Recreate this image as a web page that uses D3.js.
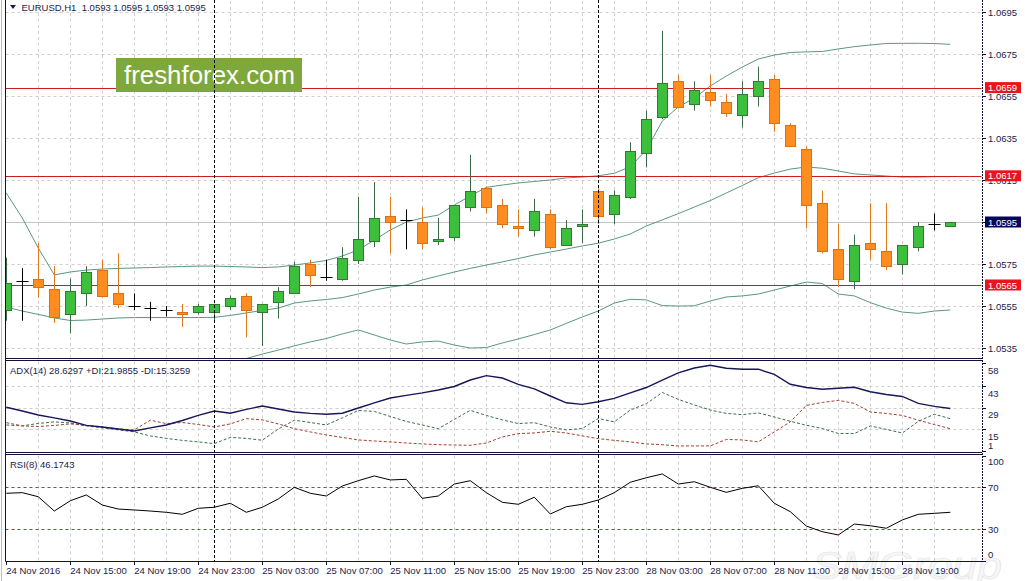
<!DOCTYPE html>
<html><head><meta charset="utf-8">
<script src="https://cdn.jsdelivr.net/npm/d3@7/dist/d3.min.js"></script>
<style>
body{margin:0;background:#fff;overflow:hidden}
svg{display:block}
text{font-family:"Liberation Sans",Arial,sans-serif}
</style>
</head><body>
<svg id="c" width="1025" height="581"></svg>
<script>
// ---------- DATA ----------
const times = [
"24 Nov 11:00","24 Nov 12:00","24 Nov 13:00","24 Nov 14:00","24 Nov 15:00","24 Nov 16:00","24 Nov 17:00","24 Nov 18:00",
"24 Nov 19:00","24 Nov 20:00","24 Nov 21:00","24 Nov 22:00","24 Nov 23:00",
"25 Nov 00:00","25 Nov 01:00","25 Nov 02:00","25 Nov 03:00","25 Nov 04:00","25 Nov 05:00","25 Nov 06:00","25 Nov 07:00",
"25 Nov 08:00","25 Nov 09:00","25 Nov 10:00","25 Nov 11:00","25 Nov 12:00","25 Nov 13:00","25 Nov 14:00","25 Nov 15:00",
"25 Nov 16:00","25 Nov 17:00","25 Nov 18:00","25 Nov 19:00","25 Nov 20:00","25 Nov 21:00","25 Nov 22:00","25 Nov 23:00",
"28 Nov 00:00","28 Nov 01:00","28 Nov 02:00","28 Nov 03:00","28 Nov 04:00","28 Nov 05:00","28 Nov 06:00","28 Nov 07:00",
"28 Nov 08:00","28 Nov 09:00","28 Nov 10:00","28 Nov 11:00","28 Nov 12:00","28 Nov 13:00","28 Nov 14:00","28 Nov 15:00",
"28 Nov 16:00","28 Nov 17:00","28 Nov 18:00","28 Nov 19:00","28 Nov 20:00","28 Nov 21:00","28 Nov 22:00"];

const open  = [1.0553,1.0567,1.0568,1.0563,1.0551,1.0561,1.0572,1.0561,1.0555,1.0554,1.0553,1.0552,1.0552,1.0552,1.0555,1.0560,1.0552,1.0557,1.0561,1.0575,
               1.0569,1.0568,1.0577,1.0586,1.0598,1.0596,1.0595,1.0586,1.0588,1.0602,1.0611,1.0603,1.0593,1.0591,1.0599,1.0584,1.0593,1.0610,1.0599,1.0607,
               1.0628,1.0645,1.0662,1.0651,1.0657,1.0652,1.0646,1.0655,1.0663,1.0641,1.0630,1.0604,1.0582,1.0567,1.0585,1.0581,1.0575,1.0583,1.0594,1.0593];
const high  = [1.0578,1.0573,1.0585,1.0574,1.0568,1.0574,1.0577,1.0580,1.0561,1.0557,1.0555,1.0556,1.0556,1.0556,1.0560,1.0561,1.0556,1.0564,1.0576,1.0577,
               1.0577,1.0583,1.0607,1.0614,1.0607,1.0601,1.0602,1.0597,1.0603,1.0627,1.0612,1.0606,1.0601,1.0606,1.0601,1.0596,1.0601,1.0611,1.0610,1.0633,
               1.0648,1.0686,1.0665,1.0662,1.0665,1.0656,1.0662,1.0669,1.0665,1.0642,1.0631,1.0610,1.0594,1.0589,1.0604,1.0604,1.0584,1.0595,1.0599,1.0595];
const low   = [1.0548,1.0548,1.0559,1.0547,1.0542,1.0555,1.0559,1.0554,1.0553,1.0548,1.0550,1.0545,1.0551,1.0548,1.0553,1.0540,1.0536,1.0549,1.0561,1.0564,
               1.0567,1.0567,1.0575,1.0583,1.0580,1.0582,1.0582,1.0584,1.0586,1.0600,1.0599,1.0592,1.0588,1.0588,1.0582,1.0584,1.0585,1.0594,1.0594,1.0606,
               1.0621,1.0644,1.0649,1.0648,1.0650,1.0645,1.0640,1.0650,1.0638,1.0631,1.0592,1.0580,1.0564,1.0563,1.0577,1.0572,1.0570,1.0581,1.0591,1.0593];
const close = [1.0566,1.0567,1.0564,1.0550,1.0562,1.0571,1.0560,1.0556,1.0555,1.0554,1.0553,1.0551,1.0555,1.0556,1.0559,1.0553,1.0556,1.0562,1.0574,1.0570,
               1.0569,1.0578,1.0587,1.0597,1.0595,1.0596,1.0585,1.0587,1.0603,1.0610,1.0602,1.0594,1.0592,1.0600,1.0583,1.0592,1.0594,1.0598,1.0608,1.0629,
               1.0644,1.0661,1.0650,1.0658,1.0653,1.0647,1.0656,1.0662,1.0642,1.0631,1.0603,1.0581,1.0568,1.0584,1.0582,1.0574,1.0584,1.0593,1.0594,1.0595];

const bbUpper = [1.06088,1.05969,1.05826,1.05698,1.05712,1.05721,1.05726,1.05729,1.05731,1.05733,1.05736,1.05738,1.05740,1.05740,1.05738,1.05736,1.05733,1.05736,1.05745,1.05755,
                 1.05767,1.05788,1.05817,1.05864,1.05912,1.05950,1.05969,1.05983,1.06031,1.06074,1.06115,1.06126,1.06136,1.06143,1.06150,1.06160,1.06164,1.06170,1.06182,1.06213,
                 1.06293,1.06431,1.06498,1.06540,1.06598,1.06645,1.06688,1.06726,1.06745,1.06757,1.06760,1.06762,1.06774,1.06785,1.06793,1.06800,1.06801,1.06801,1.06800,1.06796];
const bbMiddle = [1.05545,1.05526,1.05510,1.05493,1.05481,1.05483,1.05488,1.05493,1.05495,1.05495,1.05495,1.05495,1.05495,1.05496,1.05505,1.05517,1.05529,1.05540,1.05564,1.05574,
                  1.05581,1.05590,1.05607,1.05626,1.05640,1.05650,1.05674,1.05693,1.05712,1.05729,1.05745,1.05760,1.05776,1.05793,1.05807,1.05821,1.05836,1.05849,1.05869,1.05893,
                  1.05931,1.05960,1.05990,1.06021,1.06052,1.06088,1.06124,1.06161,1.06183,1.06202,1.06212,1.06206,1.06193,1.06179,1.06174,1.06169,1.06164,1.06164,1.06166,1.06166];
const bbLower = [1.05002,1.05083,1.05193,1.05288,1.05250,1.05245,1.05250,1.05255,1.05260,1.05260,1.05255,1.05255,1.05250,1.05255,1.05269,1.05300,1.05321,1.05340,1.05360,1.05379,
                 1.05395,1.05417,1.05436,1.05412,1.05388,1.05369,1.05379,1.05383,1.05364,1.05350,1.05352,1.05374,1.05393,1.05414,1.05436,1.05467,1.05498,1.05526,1.05564,1.05582,
                 1.05579,1.05552,1.05550,1.05551,1.05574,1.05593,1.05598,1.05607,1.05626,1.05645,1.05664,1.05657,1.05607,1.05598,1.05566,1.05540,1.05521,1.05515,1.05526,1.05531];

const adx = [29.4,27.0,24.4,22.5,20.5,17.6,16.6,15.3,14.0,16.0,17.9,20.8,24.1,27.0,25.5,28.0,30.2,28.3,26.3,25.4,
             24.9,25.5,28.9,32.2,35.4,37.1,38.7,40.6,42.9,47.1,49.9,48.4,44.2,41.3,36.7,32.3,31.3,33.0,35.2,38.7,
             42.2,47.0,51.7,54.9,56.7,54.7,54.1,54.1,50.7,44.3,42.2,41.1,41.7,42.4,39.5,37.7,36.4,31.9,30.0,28.6];
const plusDI = [17.9,17.3,18.9,19.9,19.2,17.3,16.0,14.7,13.4,10.8,9.2,7.9,6.9,5.8,9.8,9.2,8.0,15.3,21.0,19.5,
                17.9,22.5,27.3,26.7,23.4,20.2,17.9,15.5,21.5,27.4,24.1,21.2,18.8,19.4,16.6,14.7,15.6,22.1,19.9,27.6,
                31.7,39.0,34.5,30.9,27.6,25.4,24.6,25.7,23.1,20.3,17.7,15.6,12.4,12.3,17.3,15.0,12.7,20.2,24.9,22.0];
const minusDI = [19.4,17.3,16.9,17.6,18.6,17.6,16.6,15.3,14.7,21.0,18.8,19.5,18.2,16.6,18.6,22.0,21.2,18.6,15.5,13.4,
                 11.4,9.8,8.2,7.5,6.9,6.2,5.6,5.1,4.9,4.7,6.2,10.1,12.3,12.7,13.8,12.7,10.8,9.0,7.9,6.9,
                 5.6,5.1,4.3,4.3,4.3,8.5,8.2,6.9,13.4,19.9,30.6,32.5,33.9,31.9,26.3,25.4,24.1,21.0,18.2,15.5];
const rsi = [64.3,64.9,61.0,47.4,57.2,62.7,53.1,49.3,48.4,47.4,46.2,44.3,50.0,51.0,54.8,46.2,51.0,58.9,70.0,64.3,
             61.7,71.2,76.3,80.8,77.0,77.6,59.5,61.7,73.1,76.3,64.9,55.7,53.8,60.5,44.6,51.5,53.8,57.9,64.9,74.8,
             79.1,82.7,73.1,75.3,70.0,65.2,69.0,71.5,54.8,46.8,33.1,27.7,24.6,35.0,33.4,31.0,38.9,44.3,45.2,46.2];

const priceTicks = [1.0695,1.0675,1.0655,1.0635,1.0615,1.0595,1.0575,1.0555,1.0535];
const levels = [1.0659,1.0617,1.0565];
const bid = 1.0595;
const adxTicks = [58,43,29,15,1];
const rsiTicks = [100,70,30,0];
const rsiLevels = [70,30];
const separators = ["25 Nov 00:00","28 Nov 00:00"];
const axisLabels = [["24 Nov 11:00","24 Nov 2016"],["24 Nov 15:00","24 Nov 15:00"],["24 Nov 19:00","24 Nov 19:00"],["24 Nov 23:00","24 Nov 23:00"],
  ["25 Nov 03:00","25 Nov 03:00"],["25 Nov 07:00","25 Nov 07:00"],["25 Nov 11:00","25 Nov 11:00"],["25 Nov 15:00","25 Nov 15:00"],
  ["25 Nov 19:00","25 Nov 19:00"],["25 Nov 23:00","25 Nov 23:00"],["28 Nov 03:00","28 Nov 03:00"],["28 Nov 07:00","28 Nov 07:00"],
  ["28 Nov 11:00","28 Nov 11:00"],["28 Nov 15:00","28 Nov 15:00"],["28 Nov 19:00","28 Nov 19:00"]];
const header = "EURUSD,H1  1.0593 1.0595 1.0593 1.0595";
const adxTitle = "ADX(14) 28.6297 +DI:21.9855 -DI:15.3259";
const rsiTitle = "RSI(8) 46.1743";

// ---------- LAYOUT ----------
const L = 5.5, R = 982;
const P = {main:[0,358.5], adx:[360.5,452.5], rsi:[454.5,561.5]};
const x = d3.scalePoint().domain(times).range([6.3, 950.3]);
const y = d3.scaleLinear().domain([1.0695,1.0535]).range([12,348]);
const yA = d3.scaleLinear().domain([1,58]).range([451,363.2]);
const yR = d3.scaleLinear().domain([0,100]).range([560.8,455.8]);
const px = v => Math.round(v)+0.5;
const txt = "#1c1c4c";

const svg = d3.select("#c");
const defs = svg.append("defs");
Object.entries(P).forEach(([k,[t,b]])=>{
  defs.append("clipPath").attr("id","clip-"+k).append("rect")
    .attr("x",L+0.5).attr("y",t+0.5).attr("width",R-L-1).attr("height",b-t-1);
});

// watermark (very faint)
svg.append("text").attr("x",812).attr("y",579).attr("font-size",38).attr("font-style","italic")
  .attr("font-family","DejaVu Sans").attr("textLength",190).attr("lengthAdjust","spacingAndGlyphs")
  .attr("fill","#f6f6f6").attr("stroke","#e6e6e6").attr("stroke-width",0.7).text("SMGroup");

// grid
const gGrid = svg.append("g");
const gridIdx = times.filter((t,i)=> i%2===0 && i>0);
Object.values(P).forEach(([t,b])=>{
  gGrid.selectAll(null).data(gridIdx).enter().append("line")
    .attr("x1",d=>px(x(d))).attr("x2",d=>px(x(d))).attr("y1",t+1).attr("y2",b-1)
    .attr("stroke","#cfcfcf").attr("stroke-dasharray","3,3");
});
gGrid.selectAll(null).data(priceTicks.filter(p=>p!==bid)).enter().append("line")
  .attr("x1",L).attr("x2",R).attr("y1",d=>px(y(d))).attr("y2",d=>px(y(d)))
  .attr("stroke","#cfcfcf").attr("stroke-dasharray","3,3");
gGrid.selectAll(null).data(adxTicks.slice(1,4)).enter().append("line")
  .attr("x1",L).attr("x2",R).attr("y1",d=>px(yA(d))).attr("y2",d=>px(yA(d)))
  .attr("stroke","#cfcfcf").attr("stroke-dasharray","3,3");

// bid line
svg.append("line").attr("x1",L).attr("x2",R).attr("y1",px(y(bid))).attr("y2",px(y(bid)))
  .attr("stroke","#c4c4c4");

// main panel content
const gMain = svg.append("g").attr("clip-path","url(#clip-main)");
const idx = d3.range(times.length);
[bbUpper,bbMiddle,bbLower].forEach(arr=>{
  gMain.append("path").datum(idx).attr("fill","none").attr("stroke","#5b9686").attr("stroke-width",1)
    .attr("d", d3.line().x(i=>x(times[i])).y(i=>y(arr[i])));
});
gMain.selectAll(null).data(levels).enter().append("line")
  .attr("x1",L).attr("x2",R).attr("y1",d=>px(y(d))).attr("y2",d=>px(y(d)))
  .attr("stroke","#c81e1e").attr("stroke-width",1);

// candles
const gC = gMain.append("g");
idx.forEach(i=>{
  const cx = px(x(times[i]));
  const o=open[i], c=close[i], h=high[i], l=low[i];
  if (o===c){
    gC.append("line").attr("x1",cx).attr("x2",cx).attr("y1",y(h)).attr("y2",y(l)).attr("stroke","#000");
    gC.append("line").attr("x1",cx-6).attr("x2",cx+6).attr("y1",px(y(o))).attr("y2",px(y(o))).attr("stroke","#000");
    return;
  }
  const bull = c>o;
  const wick = bull ? "#3f6a46" : "#e2781c";
  const fill = bull ? "#3dbf3d" : "#ff8c1f";
  const edge = bull ? "#2f7a34" : "#d8711a";
  gC.append("line").attr("x1",cx).attr("x2",cx).attr("y1",y(h)).attr("y2",y(l)).attr("stroke",wick);
  const top = Math.round(y(Math.max(o,c))), bot = Math.round(y(Math.min(o,c)));
  gC.append("rect").attr("x",cx-5).attr("y",top+0.5).attr("width",10).attr("height",Math.max(bot-top,1))
    .attr("fill",fill).attr("stroke",edge).attr("stroke-width",1);
});

// logo
svg.append("rect").attr("x",116).attr("y",58).attr("width",186).attr("height",34).attr("fill","#7ea83c");
svg.append("text").attr("x",124).attr("y",84).attr("font-family","Open Sans").attr("font-size",25)
  .attr("fill","#fff").attr("textLength",171).attr("lengthAdjust","spacingAndGlyphs").text("freshforex.com");

// ADX panel
const gA = svg.append("g").attr("clip-path","url(#clip-adx)");
gA.append("path").datum(idx).attr("fill","none").attr("stroke","#3c6e4c").attr("stroke-dasharray","3,2")
  .attr("d", d3.line().x(i=>x(times[i])).y(i=>yA(plusDI[i])));
gA.append("path").datum(idx).attr("fill","none").attr("stroke","#a0402e").attr("stroke-dasharray","3,2")
  .attr("d", d3.line().x(i=>x(times[i])).y(i=>yA(minusDI[i])));
gA.append("path").datum(idx).attr("fill","none").attr("stroke","#16165a").attr("stroke-width",1.4)
  .attr("d", d3.line().x(i=>x(times[i])).y(i=>yA(adx[i])));

// RSI panel
const gR = svg.append("g").attr("clip-path","url(#clip-rsi)");
gR.selectAll(null).data(rsiLevels).enter().append("line")
  .attr("x1",L).attr("x2",R).attr("y1",d=>px(yR(d))).attr("y2",d=>px(yR(d)))
  .attr("stroke","#a83a3a").attr("stroke-dasharray","3,3");
gR.append("path").datum(idx).attr("fill","none").attr("stroke","#000").attr("stroke-width",1)
  .attr("d", d3.line().x(i=>x(times[i])).y(i=>yR(rsi[i])));

// period separators
svg.selectAll(null).data(separators).enter().append("line")
  .attr("x1",d=>px(x(d))).attr("x2",d=>px(x(d))).attr("y1",0).attr("y2",561)
  .attr("stroke","#000").attr("stroke-dasharray","3,2");

// frames
const frame = svg.append("g").attr("stroke","#10103a").attr("fill","none");
frame.append("line").attr("x1",1.5).attr("x2",1.5).attr("y1",0).attr("y2",581).attr("stroke","#bdbdbd");
frame.append("line").attr("x1",L).attr("x2",L).attr("y1",0).attr("y2",561.5);
[P.main[1],P.adx[0],P.adx[1],P.rsi[0],P.rsi[1]].forEach(v=>{
  frame.append("line").attr("x1",L).attr("x2",R).attr("y1",v).attr("y2",v);
});
frame.append("line").attr("x1",R+0.5).attr("x2",R+0.5).attr("y1",0).attr("y2",561.5).attr("stroke-dasharray","2,1");

// price axis
const gAx = svg.append("g").attr("font-size",9.5).attr("fill",txt);
gAx.selectAll(null).data(priceTicks).enter().append("line")
  .attr("x1",R).attr("x2",R+4).attr("y1",d=>px(y(d))).attr("y2",d=>px(y(d))).attr("stroke","#10103a");
gAx.selectAll(null).data(priceTicks).enter().append("text")
  .attr("x",988).attr("y",d=>y(d)+3.5).text(d=>d.toFixed(4));
function tag(val,color){
  const cy = y(val);
  svg.append("rect").attr("x",985).attr("y",cy-5.5).attr("width",36).attr("height",11).attr("fill",color);
  svg.append("text").attr("x",988).attr("y",cy+3.5).attr("font-size",9.5).attr("fill","#fff").text(val.toFixed(4));
}
levels.forEach(v=>tag(v,"#e8141e"));
tag(bid,"#06065e");

// ADX axis
gAx.selectAll(null).data(adxTicks).enter().append("line")
  .attr("x1",R).attr("x2",R+4).attr("y1",d=>px(yA(d))).attr("y2",d=>px(yA(d))).attr("stroke","#10103a");
gAx.selectAll(null).data(adxTicks).enter().append("text")
  .attr("x",988).attr("y",d=>Math.min(Math.max(yA(d)+7,368),445)+3.5).text(d=>d);
// RSI axis
gAx.selectAll(null).data(rsiTicks).enter().append("line")
  .attr("x1",R).attr("x2",R+4).attr("y1",d=>px(yR(d))).attr("y2",d=>px(yR(d))).attr("stroke","#10103a");
gAx.selectAll(null).data(rsiTicks).enter().append("text")
  .attr("x",988).attr("y",d=>Math.min(Math.max(yR(d),461.7),554)+3.5).text(d=>d);

// time axis
gAx.selectAll(null).data(axisLabels).enter().append("line")
  .attr("x1",d=>px(x(d[0]))).attr("x2",d=>px(x(d[0]))).attr("y1",561).attr("y2",565).attr("stroke","#10103a");
gAx.selectAll(null).data(axisLabels).enter().append("text")
  .attr("x",d=>x(d[0])).attr("y",573.5).text(d=>d[1]);

// titles
svg.append("path").attr("d","M10,5 L16,5 L13,9 Z").attr("fill",txt);
svg.append("text").attr("x",21.5).attr("y",10.5).attr("font-size",9.5).attr("fill",txt).attr("xml:space","preserve")
  .style("white-space","pre").text(header);
svg.append("text").attr("x",10).attr("y",373.5).attr("font-size",9.5).attr("fill",txt).text(adxTitle);
svg.append("text").attr("x",10).attr("y",467.5).attr("font-size",9.5).attr("fill",txt).text(rsiTitle);
</script>
</body></html>
